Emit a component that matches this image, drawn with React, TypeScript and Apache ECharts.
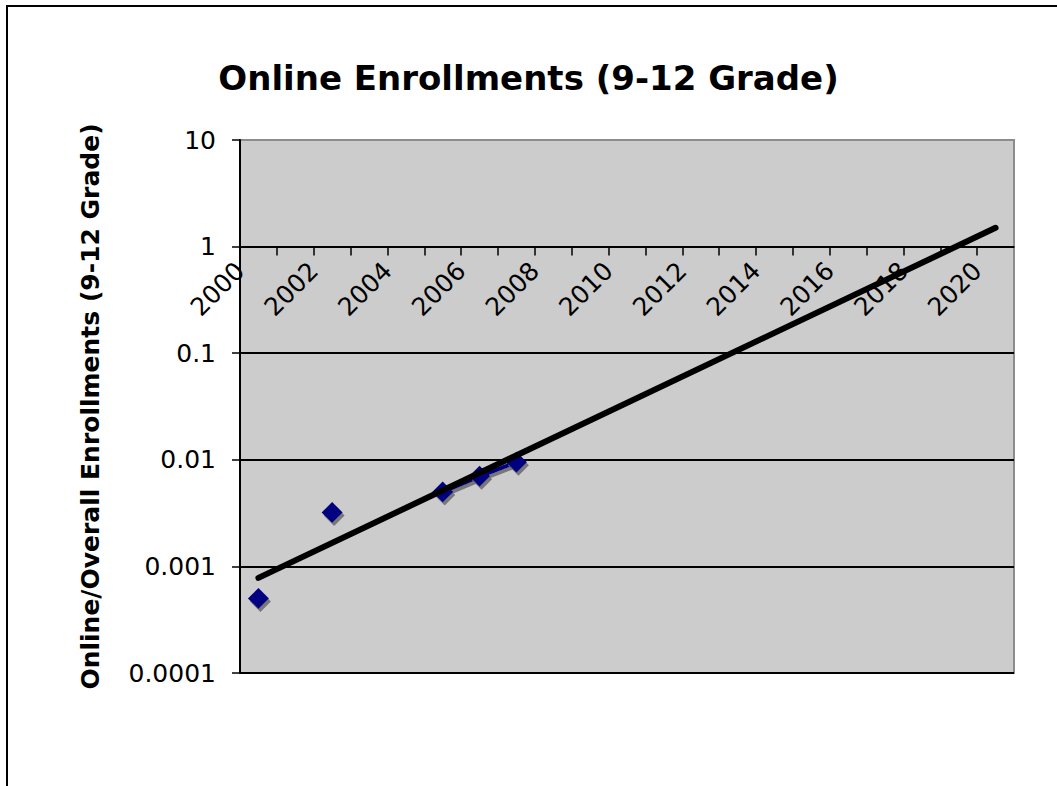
import React, { useEffect, useRef } from "react";
import * as echarts from "echarts";

const categories = [
  "2000", "2001", "2002", "2003", "2004", "2005", "2006", "2007", "2008", "2009", "2010",
  "2011", "2012", "2013", "2014", "2015", "2016", "2017", "2018", "2019", "2020",
];
const observedYears = ["2000", "2002", "2005", "2006", "2007"];
const observedRatios = [0.0005, 0.0032, 0.005, 0.007, 0.0095];
const trendYears = ["2000", "2020"];
const trendRatios = [0.00078, 1.5];
const yTickLabels = ["0.0001", "0.001", "0.01", "0.1", "1", "10"];
const xTickYears = [2000, 2002, 2004, 2006, 2008, 2010, 2012, 2014, 2016, 2018, 2020];

export default function App() {
  const ref = useRef<HTMLDivElement>(null);
  useEffect(() => {
    if (!ref.current) return;
    const chart = echarts.init(ref.current, null, { renderer: "svg" });
    const seriesData = categories.map((c) => {
      const i = observedYears.indexOf(c);
      return i >= 0 ? observedRatios[i] : null;
    });
    const trendData = trendYears.map((y, i) => [y, trendRatios[i]]);
    const font = "'DejaVu Sans', Verdana, sans-serif";
    const shadow = {
      shadowColor: "rgba(110,110,110,0.9)",
      shadowOffsetX: 2,
      shadowOffsetY: 3,
      shadowBlur: 0,
    };
    chart.setOption({
      animation: false,
      backgroundColor: "#ffffff",
      textStyle: { fontFamily: font },
      title: {
        text: "Online Enrollments (9-12 Grade)",
        left: "center",
        top: 56,
        textStyle: { fontFamily: font, fontSize: 34, fontWeight: "bold", color: "#000" },
      },
      graphic: [
        {
          type: "rect",
          shape: { x: 7, y: 6, width: 1100, height: 900 },
          style: { fill: "none", stroke: "#000", lineWidth: 2 },
          silent: true,
        },
      ],
      grid: {
        left: 240,
        right: 43,
        top: 140,
        bottom: 113,
        show: true,
        backgroundColor: "#cccccc",
        borderColor: "#8c8c8c",
        borderWidth: 2,
      },
      xAxis: [
        {
          type: "category",
          data: categories,
          position: "bottom",
          boundaryGap: true,
          show: false,
        },
        {
          type: "value",
          min: 2000,
          max: 2021,
          interval: 1,
          position: "bottom",
          offset: -426.4,
          axisLine: { show: true, lineStyle: { color: "#000", width: 1.5 } },
          axisTick: { show: true, length: 9, lineStyle: { color: "#000", width: 1.5 } },
          axisLabel: {
            rotate: 45,
            margin: 20,
            fontSize: 25,
            color: "#000",
            fontFamily: font,
            showMinLabel: true,
            showMaxLabel: false,
            hideOverlap: false,
            formatter: (v: number) => (xTickYears.indexOf(v) >= 0 ? String(v) : ""),
          },
          splitLine: { show: false },
        },
      ],
      yAxis: {
        type: "log",
        logBase: 10,
        min: 0.0001,
        max: 10,
        name: "Online/Overall Enrollments (9-12 Grade)",
        nameLocation: "middle",
        nameRotate: 90,
        nameGap: 137,
        nameTextStyle: { fontFamily: font, fontSize: 25, fontWeight: "bold", color: "#000" },
        axisLine: { show: true, lineStyle: { color: "#000", width: 2 } },
        axisTick: { show: true, length: 8, lineStyle: { color: "#000", width: 1.5 } },
        minorTick: { show: false },
        axisLabel: {
          fontSize: 25,
          color: "#000",
          margin: 24,
          fontFamily: font,
          formatter: (v: number) => {
            const e = Math.round(Math.log10(v));
            return yTickLabels[e + 4] ?? String(v);
          },
        },
        splitLine: { show: true, showMaxLine: false, lineStyle: { color: "#000", width: 2 } },
      },
      series: [
        {
          type: "line",
          xAxisIndex: 0,
          data: seriesData,
          connectNulls: false,
          symbol: "diamond",
          symbolSize: 21,
          showSymbol: true,
          itemStyle: { color: "#000080", ...shadow },
          lineStyle: { color: "#000080", width: 4, ...shadow },
          z: 2,
        },
        {
          type: "line",
          xAxisIndex: 0,
          data: trendData,
          symbol: "none",
          lineStyle: { color: "#000", width: 6, cap: "round" },
          z: 3,
        },
      ],
    });
    return () => chart.dispose();
  }, []);
  return (
    <div
      ref={ref}
      style={{ position: "absolute", left: 0, top: 0, width: 1057, height: 786 }}
    />
  );
}
